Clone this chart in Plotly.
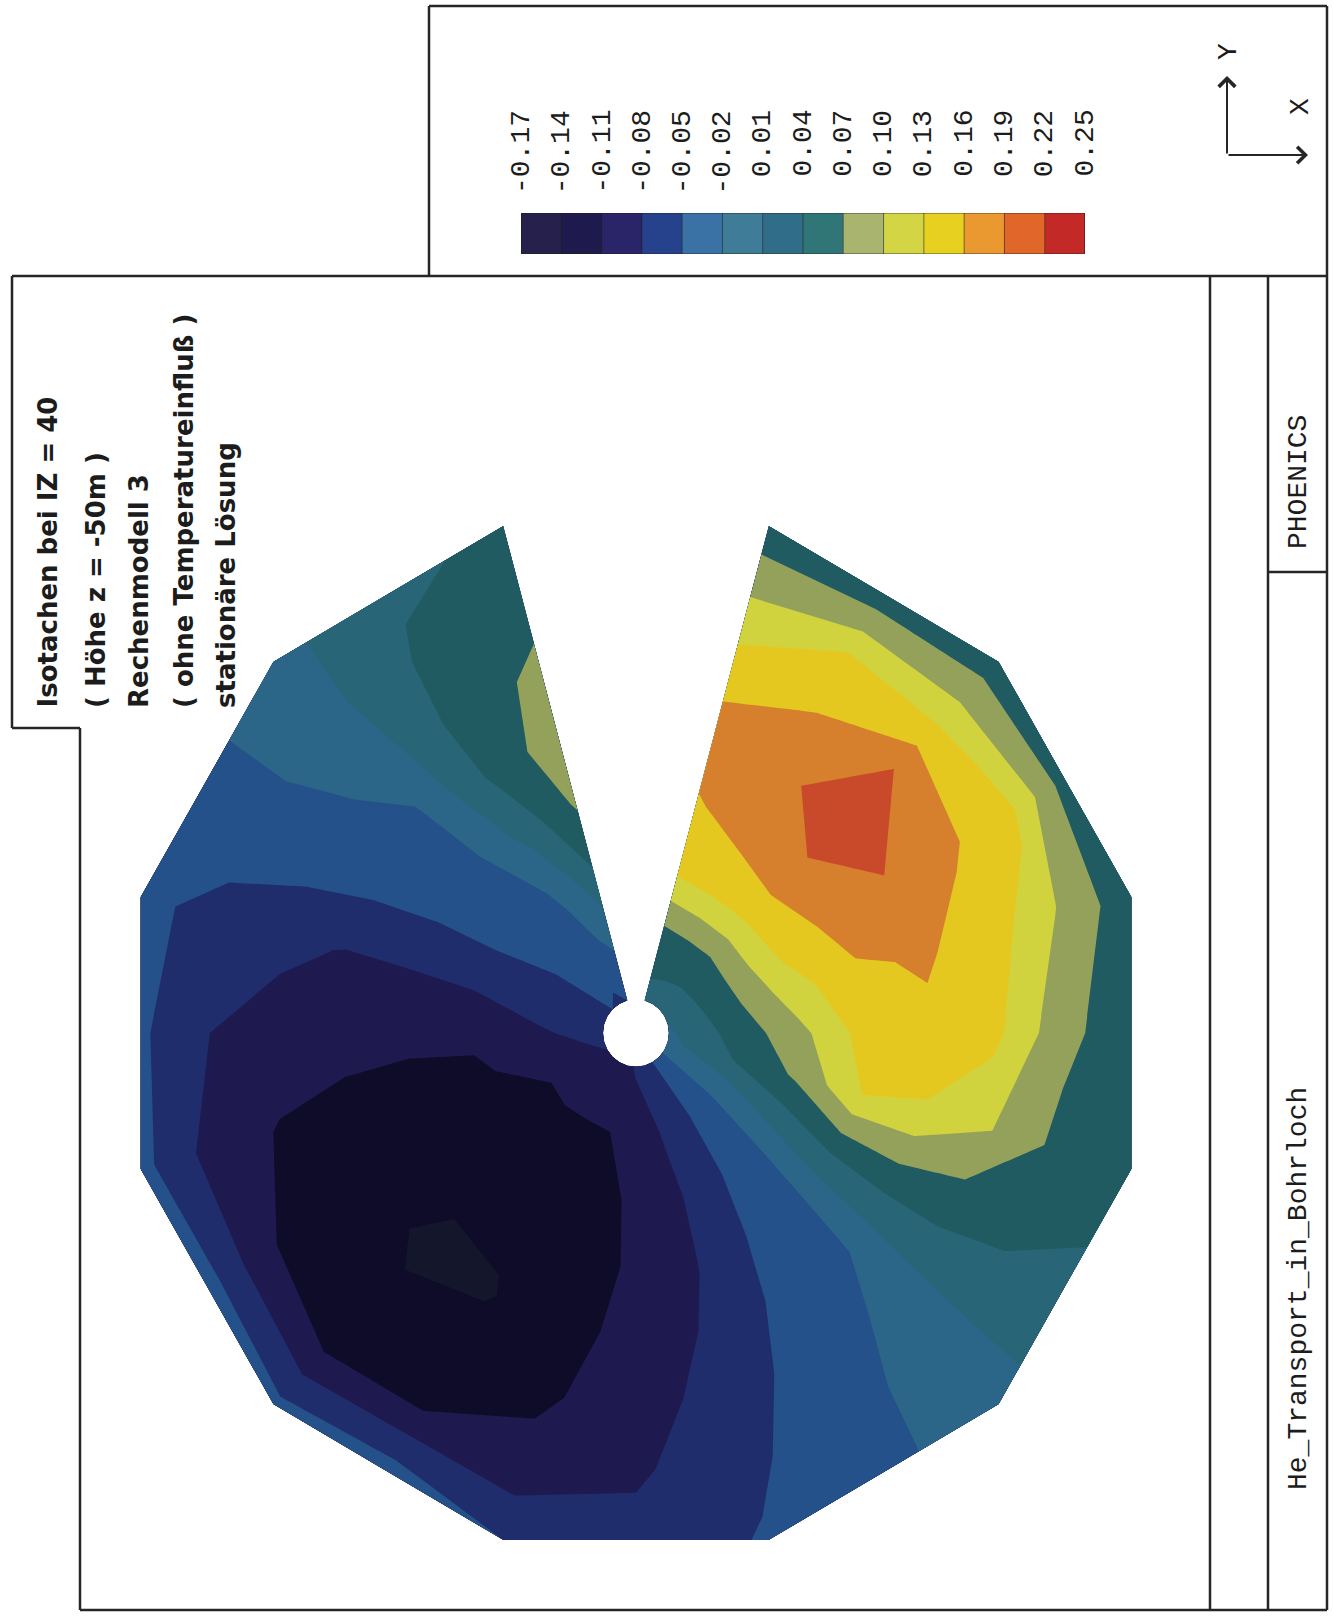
import numpy as np
import plotly.graph_objects as go

# Isotach levels and their printed labels
levels = [-0.17, -0.14, -0.11, -0.08, -0.05, -0.02, 0.01, 0.04, 0.07, 0.10, 0.13, 0.16, 0.19, 0.22, 0.25]
level_labels = ["-0.17", "-0.14", "-0.11", "-0.08", "-0.05", "-0.02", "0.01", "0.04",
                "0.07", "0.10", "0.13", "0.16", "0.19", "0.22", "0.25"]

# Band colours: as printed in the field and in the key strip
field_colors = ["#14162c", "#0e0c28", "#1e1a50", "#1f2d6c", "#25518a", "#2b6689", "#276577",
                "#1f5b60", "#93a15a", "#d0d33e", "#e5c81f", "#d6802d", "#c84a2a", "#c0282a"]
key_colors = ["#26214c", "#1f1a4e", "#2a2468", "#27428c", "#3a72a6", "#3e7c98", "#2f6d88",
              "#317676", "#a9b56e", "#d3d545", "#e8d021", "#e9992f", "#e1662a", "#c32a27"]

# Polar calculation grid: angle in degrees (clockwise from the slot), radial fraction hole -> rim
theta_deg = [15, 30, 45, 60, 75, 90, 105, 120, 135, 150, 165, 180,
             195, 210, 225, 240, 255, 270, 285, 300, 315, 330, 345]
radial_frac = [0.0, 0.14, 0.28, 0.42, 0.56, 0.70, 0.85, 1.0]

# Velocity at each grid node (one row per angle)
velocity = [
    [0.030, 0.060, 0.140, 0.158, 0.175, 0.145, 0.100, 0.050],   # 15
    [0.025, 0.062, 0.140, 0.170, 0.184, 0.162, 0.132, 0.050],   # 30
    [0.020, 0.064, 0.145, 0.188, 0.205, 0.189, 0.115, 0.050],   # 45
    [0.015, 0.064, 0.135, 0.170, 0.188, 0.165, 0.145, 0.055],   # 60
    [0.010, 0.062, 0.120, 0.157, 0.163, 0.145, 0.095, 0.050],   # 75
    [0.005, 0.050, 0.090, 0.140, 0.155, 0.140, 0.080, 0.050],   # 90
    [0.000, 0.040, 0.075, 0.130, 0.125, 0.100, 0.060, 0.050],   # 105
    [-0.010, 0.000, 0.025, 0.045, 0.050, 0.048, 0.040, 0.035],  # 120
    [-0.035, -0.033, -0.030, -0.025, -0.020, -0.012, -0.005, -0.002],  # 135
    [-0.050, -0.055, -0.053, -0.048, -0.042, -0.036, -0.030, -0.028],  # 150
    [-0.060, -0.078, -0.083, -0.081, -0.075, -0.065, -0.056, -0.047],  # 165
    [-0.075, -0.100, -0.105, -0.105, -0.100, -0.095, -0.085, -0.070],  # 180
    [-0.090, -0.110, -0.120, -0.125, -0.122, -0.115, -0.098, -0.050],  # 195
    [-0.090, -0.110, -0.128, -0.135, -0.142, -0.130, -0.110, -0.035],  # 210
    [-0.095, -0.110, -0.125, -0.137, -0.146, -0.130, -0.110, -0.040],  # 225
    [-0.080, -0.110, -0.122, -0.130, -0.128, -0.120, -0.108, -0.035],  # 240
    [-0.075, -0.100, -0.115, -0.120, -0.118, -0.112, -0.090, -0.040],  # 255
    [-0.065, -0.085, -0.105, -0.103, -0.100, -0.095, -0.080, -0.045],  # 270
    [-0.060, -0.068, -0.079, -0.081, -0.082, -0.070, -0.060, -0.040],  # 285
    [-0.055, -0.053, -0.050, -0.047, -0.040, -0.035, -0.030, -0.030],  # 300
    [-0.050, -0.045, -0.040, -0.030, -0.022, -0.010, 0.000, 0.000],    # 315
    [-0.055, -0.030, -0.015, 0.020, 0.045, 0.050, 0.045, 0.035],       # 330
    [-0.050, -0.010, 0.040, 0.075, 0.090, 0.078, 0.055, 0.045],        # 345
]

note_lines = ["Isotachen bei IZ = 40", "( Höhe z = -50m )", "Rechenmodell 3",
              "( ohne Temperatureinfluß )", "stationäre Lösung"]

# ---- page geometry (pixels) ----
W, H = 1334, 1617
cx, cy, rx, ry = 636.0, 1033.0, 513.0, 525.0   # disc centre and half-axes
hole_r = 0.064                                  # borehole radius (fraction of rim)

# Polar grid -> page coordinates (12-sided rim)
th = np.radians(theta_deg)
edge_dir = np.radians(30 * np.round(np.array(theta_deg) / 30.0))
rim = np.cos(np.radians(15)) / np.cos(th - edge_dir)
rho = hole_r + np.outer(rim - hole_r, radial_frac)
gx = cx + rx * rho * np.sin(th)[:, None]
gy = cy - ry * rho * np.cos(th)[:, None]

n_band = len(field_colors)
field_scale = [[i / (n_band - 1), c] for i, c in enumerate(field_colors)]
key_scale = []
for i, c in enumerate(key_colors):
    key_scale += [[i / n_band, c], [(i + 1) / n_band, c]]

hidden_axis = dict(showgrid=False, showline=False, startline=False, endline=False,
                   showticklabels="none", minorgridcount=0, smoothing=0,
                   gridcolor="rgba(0,0,0,0)", linecolor="rgba(0,0,0,0)")

fig = go.Figure()
fig.add_trace(go.Carpet(a=radial_frac, b=theta_deg, x=gx.tolist(), y=gy.tolist(),
                        carpet="disc", aaxis=hidden_axis, baxis=hidden_axis,
                        xaxis="x", yaxis="y"))
fig.add_trace(go.Contourcarpet(
    a=radial_frac, b=theta_deg, z=velocity, carpet="disc",
    autocontour=False,
    contours=dict(start=levels[1], end=levels[-2], size=0.03, coloring="fill", showlines=False),
    colorscale=field_scale, line=dict(width=0, smoothing=0), showscale=False,
    xaxis="x", yaxis="y"))

# Key strip on its own axis, scaled by velocity
mids = [(levels[i] + levels[i + 1]) / 2 for i in range(n_band)]
fig.add_trace(go.Heatmap(x=levels, y=[0, 1], z=[mids], colorscale=key_scale,
                         zmin=levels[0], zmax=levels[-1], showscale=False,
                         xaxis="x2", yaxis="y2", hoverinfo="skip"))

ink = "#262626"
shapes = []


def seg(x0, y0, x1, y1, w=2.5):
    shapes.append(dict(type="line", xref="x", yref="y", x0=x0, y0=y0, x1=x1, y1=y1,
                       line=dict(color=ink, width=w)))


# page frame
seg(429, 6, 1327, 6)
seg(429, 6, 429, 276)
seg(1327, 6, 1327, 1610)
seg(12, 276, 1327, 276)
seg(12, 276, 12, 728)
seg(12, 728, 80, 728)
seg(80, 728, 80, 1610)
seg(80, 1610, 1327, 1610)
seg(1210, 276, 1210, 1610)
seg(1268, 276, 1268, 1610)
seg(1268, 572, 1327, 572)

# key strip outline and separators
for lv in levels:
    shapes.append(dict(type="line", xref="x2", yref="y2", x0=lv, x1=lv, y0=0, y1=1,
                       line=dict(color="rgba(30,30,30,0.55)", width=1)))
shapes.append(dict(type="rect", xref="x2", yref="y2", x0=levels[0], x1=levels[-1], y0=0, y1=1,
                   line=dict(color="rgba(30,30,30,0.7)", width=1)))

annotations = []
note_x = [47, 96, 139, 184, 226]
for t, xx in zip(note_lines, note_x):
    annotations.append(dict(x=xx, y=710, xref="x", yref="y", text=t, showarrow=False,
                            textangle=-90, xanchor="center", yanchor="bottom",
                            font=dict(family="DejaVu Sans", size=26, color="#1c1c1c", weight="bold")))

for lv, lab in zip(levels, level_labels):
    annotations.append(dict(x=lv, y=1 - 108 / H, xref="x2", yref="paper", text=lab,
                            showarrow=False, textangle=-90, xanchor="center", yanchor="top",
                            font=dict(family="Liberation Mono", size=28, color="#1c1c1c")))

mono = dict(family="Liberation Mono", size=28, color="#1c1c1c")
annotations.append(dict(x=1298, y=482, xref="x", yref="y", text="PHOENICS", showarrow=False,
                        textangle=-90, font=mono))
annotations.append(dict(x=1298, y=1289, xref="x", yref="y", text="He_Transport_in_Bohrloch",
                        showarrow=False, textangle=-90, font=mono))

# axis orientation arrows
for tip in [(1227, 76), (1308, 155)]:
    annotations.append(dict(x=tip[0], y=tip[1], ax=1227, ay=155, xref="x", yref="y",
                            axref="x", ayref="y", text="", showarrow=True, arrowhead=4,
                            arrowsize=1.6, arrowwidth=2, arrowcolor=ink))
annotations.append(dict(x=1228, y=52, xref="x", yref="y", text="Y", showarrow=False,
                        textangle=-90, font=dict(family="Liberation Mono", size=28, color="#1c1c1c")))
annotations.append(dict(x=1300, y=107, xref="x", yref="y", text="X", showarrow=False,
                        textangle=-90, font=dict(family="Liberation Mono", size=28, color="#1c1c1c")))

fig.update_layout(
    width=W, height=H, margin=dict(l=0, r=0, t=0, b=0),
    paper_bgcolor="white", plot_bgcolor="white", showlegend=False,
    xaxis=dict(range=[0, W], domain=[0, 1], visible=False, fixedrange=True),
    yaxis=dict(range=[H, 0], domain=[0, 1], visible=False, fixedrange=True),
    xaxis2=dict(range=[levels[0], levels[-1]], domain=[521 / W, 1085 / W], visible=False,
                anchor="y2", fixedrange=True),
    yaxis2=dict(range=[0, 1], domain=[1 - 254 / H, 1 - 213 / H], visible=False,
                anchor="x2", fixedrange=True),
    shapes=shapes, annotations=annotations,
)

fig.write_html("out.html")
